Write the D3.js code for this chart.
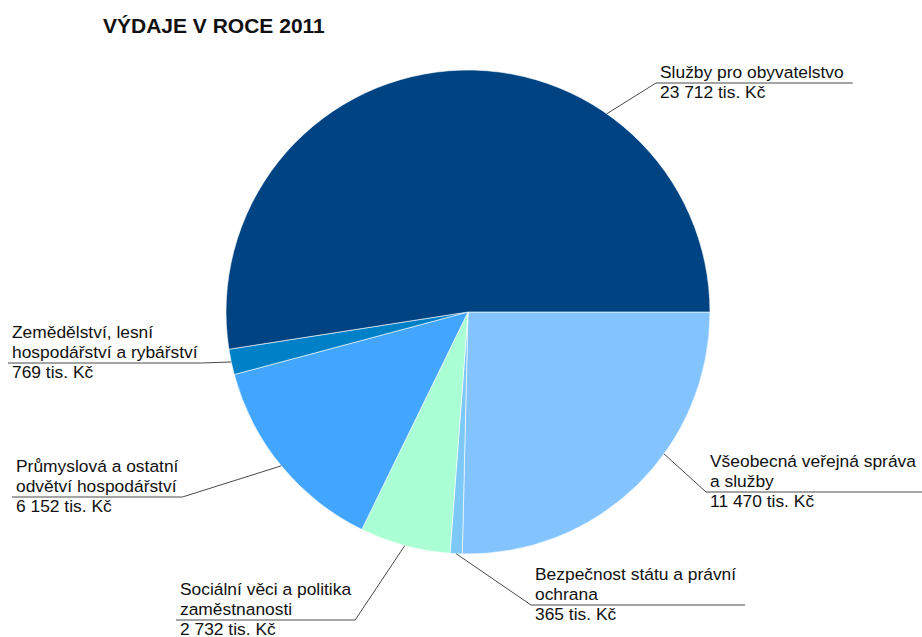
<!DOCTYPE html>
<html>
<head>
<meta charset="utf-8">
<script src="https://cdn.jsdelivr.net/npm/d3@7"></script>
<style>
  html, body { margin: 0; padding: 0; background: #fff; }
  svg { display: block; font-family: "Liberation Sans", Arial, sans-serif; }
</style>
</head>
<body>
<svg id="chart" width="922" height="637"></svg>
<script>
// Expenditure categories, clockwise from 3 o'clock
const categories = [
  "Všeobecná veřejná správa a služby",
  "Bezpečnost státu a právní ochrana",
  "Sociální věci a politika zaměstnanosti",
  "Průmyslová a ostatní odvětví hospodářství",
  "Zemědělství, lesní hospodářství a rybářství",
  "Služby pro obyvatelstvo"
];
// Amounts in thousands CZK
const values = [11470, 365, 2732, 6152, 769, 23712];
// Label text lines per category
const labelLines = [
  ["Všeobecná veřejná správa", "a služby"],
  ["Bezpečnost státu a právní", "ochrana"],
  ["Sociální věci a politika", "zaměstnanosti"],
  ["Průmyslová a ostatní", "odvětví hospodářství"],
  ["Zemědělství, lesní", "hospodářství a rybářství"],
  ["Služby pro obyvatelstvo"]
];
const colors = ["#83c4ff", "#7cc8f6", "#aaffd4", "#42a6ff", "#0080c6", "#004382"];

// Label placement: text x, underline y, side of the pie, optional leader angle (deg)
const labelLayout = [
  { x: 710, y: 492, side: "right", angle: 125.9 },
  { x: 535, y: 605, side: "right" },
  { x: 180, y: 620, side: "left" },
  { x: 16,  y: 497, side: "left" },
  { x: 12,  y: 363, side: "left" },
  { x: 660, y: 83,  side: "right", angle: 35 }
];

const fmt = v => d3.format(",")(v).replace(/,/g, " ") + " tis. Kč";

const svg = d3.select("#chart");
const cx = 468, cy = 312, radius = 242;
const fontSize = 17.4;

svg.append("text")
  .attr("x", 103).attr("y", 33)
  .attr("font-size", 21).attr("font-weight", "bold")
  .attr("fill", "#111")
  .text("VÝDAJE V ROCE 2011");

const pie = d3.pie().sort(null).value(d => d)
  .startAngle(Math.PI / 2).endAngle(Math.PI / 2 + 2 * Math.PI);
const arcs = pie(values);
const arc = d3.arc().innerRadius(0).outerRadius(radius);

const g = svg.append("g").attr("transform", `translate(${cx},${cy})`);
g.selectAll("path.slice")
  .data(arcs)
  .join("path")
  .attr("class", "slice")
  .attr("d", arc)
  .attr("fill", (d, i) => colors[i])
  .attr("stroke", "rgba(255,255,255,0.75)")
  .attr("stroke-width", 0.8);

// Labels with underline and leader line
const lineH = 20.5;
arcs.forEach((a, i) => {
  const lay = labelLayout[i];
  const lines = labelLines[i];
  const lg = svg.append("g");
  const texts = [];
  lines.forEach((t, k) => {
    texts.push(lg.append("text")
      .attr("x", lay.x)
      .attr("y", lay.y - 5 - (lines.length - 1 - k) * lineH)
      .attr("font-size", fontSize).attr("fill", "#111")
      .text(t));
  });
  texts.push(lg.append("text")
    .attr("x", lay.x).attr("y", lay.y + 14.5)
    .attr("font-size", fontSize).attr("fill", "#111")
    .text(fmt(values[i])));
  const maxW = d3.max(texts, t => t.node().getComputedTextLength());
  const x0 = lay.x - 4;
  const x1 = lay.x + maxW + (lay.side === "left" ? 4 : 9);
  const ang = lay.angle !== undefined ? lay.angle * Math.PI / 180 : (a.startAngle + a.endAngle) / 2;
  const ax = cx + radius * Math.sin(ang), ay = cy - radius * Math.cos(ang);
  const elbowX = lay.side === "left" ? x1 : x0;
  lg.append("path")
    .attr("d", `M${ax},${ay}L${elbowX},${lay.y}`)
    .attr("fill", "none").attr("stroke", "#4a4a4a").attr("stroke-width", 1);
  lg.append("line")
    .attr("x1", x0).attr("x2", Math.min(x1, 922)).attr("y1", lay.y).attr("y2", lay.y)
    .attr("stroke", "#4a4a4a").attr("stroke-width", 1);
});
</script>
</body>
</html>
